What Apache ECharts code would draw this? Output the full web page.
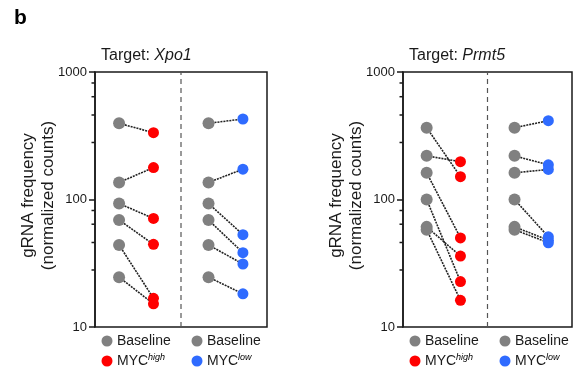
<!DOCTYPE html>
<html>
<head>
<meta charset="utf-8">
<script src="https://cdn.jsdelivr.net/npm/echarts@6/dist/echarts.min.js"></script>
<style>html,body{margin:0;padding:0;background:#fff}#c{width:582px;height:372px}</style>
</head>
<body>
<div id="c"></div>
<script>
// ---- data ----
var panelTitles = ['Xpo1', 'Prmt5'];
var xpoBaseHigh = [396, 136, 93, 69, 44, 24.6];
var xpoHigh     = [334, 178, 71, 44.5, 16.8, 15.2];
var xpoBaseLow  = [396, 136, 93, 69, 44, 24.6];
var xpoLow      = [428, 173, 53, 38.3, 31.2, 18.2];
var prmtBaseHigh = [366, 220, 162, 100, 61, 58];
var prmtHigh     = [151, 198, 50, 22.7, 36, 16.2];
var prmtBaseLow  = [366, 220, 162, 100, 61, 58];
var prmtLow      = [415, 187, 172, 51, 48, 45.8];
var yTickMin = 10, yTickMax = 1000;
var minorTicks = [28, 46, 64, 82, 280, 460, 640, 820];
var legendLabels = ['Baseline', 'Baseline', 'MYC', 'MYC'];
var legendSup = ['', '', 'high', 'low'];

// ---- style ----
var FONT = 'Liberation Sans, Arial, sans-serif';
var GRAY = '#808080', RED = '#ff0000', BLUE = '#2f6bff', INK = '#1a1a1a';
var X_BASE1 = 0.7, X_TREAT1 = 1.7, X_BASE2 = 3.3, X_TREAT2 = 4.3, X_DIV = 2.5;

var grids = [
  {left: 95, top: 72, width: 172, height: 255},
  {left: 403, top: 72, width: 169, height: 255}
];

var chart = echarts.init(document.getElementById('c'), null, {renderer: 'canvas'});
var option = {
  animation: false,
  backgroundColor: '#fff',
  textStyle: {fontFamily: FONT},
  grid: grids.map(function (g) {
    return Object.assign({show: true, borderColor: INK, borderWidth: 1.5, backgroundColor: 'transparent'}, g);
  }),
  xAxis: [0, 1].map(function (i) {
    return {type: 'value', gridIndex: i, min: 0, max: 5, show: false};
  }),
  yAxis: [0, 1].map(function (i) {
    return {
      type: 'log', gridIndex: i, logBase: 10, min: yTickMin, max: yTickMax,
      axisLine: {show: true, lineStyle: {color: INK, width: 1.5}},
      axisTick: {show: true, length: 6, lineStyle: {color: INK, width: 1.5}},
      axisLabel: {color: INK, fontSize: 13, fontFamily: FONT, margin: 8,
                  formatter: function (v) { return String(Math.round(v)); }},
      splitLine: {show: false}
    };
  }),
  title: panelTitles.map(function (t, i) {
    return {
      text: '{n|Target: }{i|' + t + '}',
      left: grids[i].left + 1, top: 43,
      textStyle: {
        fontWeight: 'normal',
        rich: {
          n: {fontSize: 16, fontFamily: FONT, color: INK, fontWeight: 'normal'},
          i: {fontSize: 16, fontFamily: FONT, fontStyle: 'italic', color: INK, fontWeight: 'normal'}
        }
      }
    };
  }),
  series: [],
  graphic: []
};

function addPanel(pi, baseA, treatA, baseB, treatB, colA, colB) {
  var pairs = [[baseA, treatA, X_BASE1, X_TREAT1], [baseB, treatB, X_BASE2, X_TREAT2]];
  pairs.forEach(function (p) {
    for (var k = 0; k < p[0].length; k++) {
      option.series.push({
        type: 'line', xAxisIndex: pi, yAxisIndex: pi, z: 2,
        data: [[p[2], p[0][k]], [p[3], p[1][k]]],
        symbol: 'none', silent: true,
        lineStyle: {color: '#222', width: 1.6, type: [2, 1]}
      });
    }
  });
  // dashed divider
  option.series.push({
    type: 'line', xAxisIndex: pi, yAxisIndex: pi, z: 1,
    data: [[X_DIV, yTickMin], [X_DIV, yTickMax]], symbol: 'none',
    lineStyle: {color: '#555', width: 1.2, type: [5, 4]}
  });
  // points
  [[baseA, X_BASE1, GRAY, 12], [treatA, X_TREAT1, colA, 11],
   [baseB, X_BASE2, GRAY, 12], [treatB, X_TREAT2, colB, 11]].forEach(function (s) {
    option.series.push({
      type: 'scatter', xAxisIndex: pi, yAxisIndex: pi, z: 3,
      symbol: 'circle', symbolSize: s[3],
      itemStyle: {color: s[2], opacity: 1},
      data: s[0].map(function (v) { return [s[1], v]; })
    });
  });
  // minor ticks
  option.series.push({
    type: 'custom', xAxisIndex: pi, yAxisIndex: pi, z: 4, clip: false, silent: true,
    data: minorTicks.map(function (v) { return [0, v]; }),
    renderItem: function (params, api) {
      var p = api.coord([0, api.value(1)]);
      return {type: 'line', shape: {x1: p[0] - 3.5, y1: p[1], x2: p[0], y2: p[1]},
              style: {stroke: INK, lineWidth: 1.5}};
    }
  });
  // y-axis name
  var g = grids[pi];
  option.graphic.push({
    type: 'text', x: g.left - 57, y: g.top + g.height / 2 - 4, rotation: Math.PI / 2,
    style: {text: 'gRNA frequency\n(normalized counts)', fontSize: 17, fontFamily: FONT,
            fill: INK, align: 'center', verticalAlign: 'middle', lineHeight: 20}
  });
  // legend
  var cols = [GRAY, GRAY, colA, colB];
  for (var j = 0; j < 4; j++) {
    var cx = g.left + 12 + (j % 2) * 90;
    var cy = j < 2 ? 341 : 361;
    option.graphic.push({type: 'circle', shape: {cx: cx, cy: cy, r: 5.5}, style: {fill: cols[j]}});
    option.graphic.push({
      type: 'text', x: cx + 10, y: cy,
      style: {
        text: legendSup[j] ? '{m|' + legendLabels[j] + '}{s|' + legendSup[j] + '}' : '{m|' + legendLabels[j] + '}',
        verticalAlign: 'middle',
        rich: {
          m: {fontSize: 14, fontFamily: FONT, fill: INK, color: INK},
          s: {fontSize: 9, fontFamily: FONT, fontStyle: 'italic', color: INK, padding: [0, 0, 8, 0]}
        }
      }
    });
  }
}

addPanel(0, xpoBaseHigh, xpoHigh, xpoBaseLow, xpoLow, RED, BLUE);
addPanel(1, prmtBaseHigh, prmtHigh, prmtBaseLow, prmtLow, RED, BLUE);

option.graphic.push({
  type: 'text', x: 14, y: 8,
  style: {text: 'b', fontSize: 21, fontWeight: 'bold', fontFamily: FONT, fill: '#000'}
});

chart.setOption(option);
</script>
</body>
</html>
